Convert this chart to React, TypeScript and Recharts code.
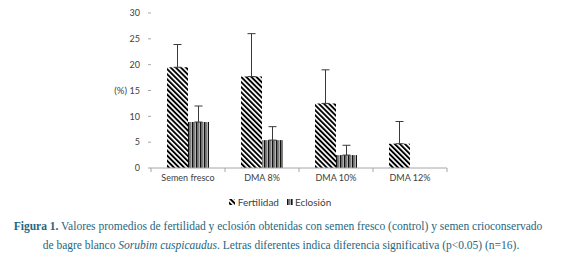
import React from 'react';
import { BarChart, Bar, XAxis, YAxis, ErrorBar, Legend } from 'recharts';

const categories = ['Semen fresco', 'DMA 8%', 'DMA 10%', 'DMA 12%'];
const fertilidad = [19.5, 17.7, 12.5, 4.7];
const fertilidadErr = [4.4, 8.3, 6.5, 4.3];
const eclosion = [8.9, 5.4, 2.5, 0];
const eclosionErr = [3.1, 2.6, 1.9, 0];
const yTicks = [0, 5, 10, 15, 20, 25, 30];

const data = categories.map((c, i) => ({
  name: c,
  Fertilidad: fertilidad[i],
  fErr: [0, fertilidadErr[i]],
  Eclosion: eclosion[i],
  eErr: [0, eclosionErr[i]],
}));

const FONT = 'Lato, "Open Sans", sans-serif';
const TXT = '#404040';
const AXIS = '#a6a6a6';

const XTick = (props: any) => {
  const { x, y, payload, index, visibleTicksCount } = props;
  const half = payload && payload.offset ? payload.offset : 37;
  const axisY = y - 6;
  return (
    <g>
      <line x1={x - half} x2={x - half} y1={axisY} y2={axisY + 4} stroke={AXIS} />
      {index === visibleTicksCount - 1 && (
        <line x1={x + half} x2={x + half} y1={axisY} y2={axisY + 4} stroke={AXIS} />
      )}
      <text x={x} y={y + 7} textAnchor="middle" fontSize={9} fontFamily={FONT} fill={TXT}>
        {payload.value}
      </text>
    </g>
  );
};

const LegendContent = () => (
  <div style={{ height: 16, display: 'flex', justifyContent: 'center', alignItems: 'center', fontFamily: FONT, fontSize: 10, color: TXT, paddingRight: 8 }}>
    <svg width={6} height={6} style={{ marginRight: 3 }}>
      <rect width={6} height={6} fill="url(#hatchF)" />
    </svg>
    <span style={{ marginRight: 8 }}>Fertilidad</span>
    <svg width={6} height={6} style={{ marginRight: 2 }}>
      <rect width={6} height={6} fill="url(#stripeE)" />
    </svg>
    <span>Eclosión</span>
  </div>
);

const captionStyle: React.CSSProperties = {
  position: 'absolute',
  left: 0,
  textAlign: 'center',
  fontFamily: '"Liberation Serif", serif',
  fontSize: 11.5,
  color: '#1f6680',
  whiteSpace: 'nowrap',
  lineHeight: '18px',
};

export default function App() {
  return (
    <div style={{ position: 'absolute', left: 0, top: 0, width: 564, height: 262, background: '#fff' }}>
      <BarChart
        width={564}
        height={210}
        data={data}
        margin={{ top: 13, right: 117, left: 121, bottom: 0 }}
        barGap={0}
        barSize={21}
      >
        <defs>
          <pattern id="hatchF" width={3.6} height={3.6} patternUnits="userSpaceOnUse" patternTransform="rotate(-45)">
            <rect width={3.6} height={3.6} fill="#fff" />
            <rect width={1.9} height={3.6} fill="#000" />
          </pattern>
          <pattern id="stripeE" width={4} height={4} patternUnits="userSpaceOnUse">
            <rect width={4} height={4} fill="#fff" />
            <rect x={0} width={1.6} height={4} fill="#111" />
            <rect x={2} width={1.6} height={4} fill="#808080" />
          </pattern>
        </defs>
        <XAxis
          dataKey="name"
          height={26}
          axisLine={{ stroke: AXIS }}
          tickLine={false}
          tickSize={4}
          tickMargin={2}
          tick={<XTick />}
          interval={0}
        />
        <YAxis
          width={30}
          domain={[0, 30]}
          ticks={yTicks}
          axisLine={false}
          tickLine={{ stroke: AXIS }}
          tickSize={3}
          tickMargin={8}
          tick={{ fontSize: 9, fontFamily: FONT, fill: TXT }}
          label={{ value: '(%)', position: 'left', offset: -6, fontSize: 9.5, fontFamily: FONT, fill: TXT }}
        />
        <Legend verticalAlign="bottom" content={<LegendContent />} />
        <Bar dataKey="Fertilidad" fill="url(#hatchF)" isAnimationActive={false}>
          <ErrorBar dataKey="fErr" width={4} stroke="#3a3a3a" strokeWidth={1} isAnimationActive={false} />
        </Bar>
        <Bar dataKey="Eclosion" name="Eclosión" fill="url(#stripeE)" isAnimationActive={false}>
          <ErrorBar dataKey="eErr" width={4} stroke="#3a3a3a" strokeWidth={1} isAnimationActive={false} />
        </Bar>
      </BarChart>
      <div style={{ ...captionStyle, top: 217, width: 556 }}>
        <b>Figura 1.</b> Valores promedios de fertilidad y eclosión obtenidas con semen fresco (control) y semen crioconservado
      </div>
      <div style={{ ...captionStyle, top: 236, width: 562 }}>
        de bagre blanco <i>Sorubim cuspicaudus</i>. Letras diferentes indica diferencia significativa (p&lt;0.05) (n=16).
      </div>
    </div>
  );
}
